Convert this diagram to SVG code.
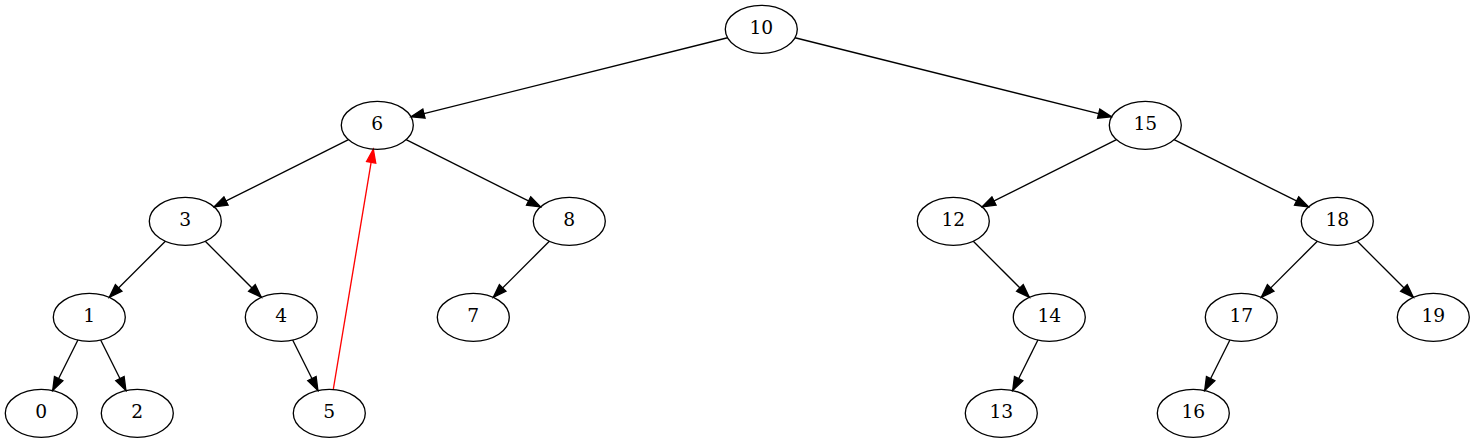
<svg xmlns="http://www.w3.org/2000/svg" width="1475" height="443" viewBox="0 0 1475 443">
<style>
.node ellipse{fill:none;stroke:#000;stroke-width:1.33}
.node text{font-family:"DejaVu Serif","Liberation Serif",serif;font-size:18.67px;text-anchor:middle;fill:#000}
.edge{stroke:#000;stroke-width:1.33;fill:none;marker-end:url(#ah)}
.red{stroke:#f00;marker-end:url(#ahr)}
</style>
<defs>
<marker id="ah" markerUnits="userSpaceOnUse" markerWidth="16" markerHeight="12" viewBox="-1 -6 16 12" refX="13.33" refY="0" orient="auto">
<path d="M0,-4.67 L13.33,0 L0,4.67 z" fill="#000" stroke="#000" stroke-width="1.33"/>
</marker>
<marker id="ahr" markerUnits="userSpaceOnUse" markerWidth="16" markerHeight="12" viewBox="-1 -6 16 12" refX="13.33" refY="0" orient="auto">
<path d="M0,-4.67 L13.33,0 L0,4.67 z" fill="#f00" stroke="#f00" stroke-width="1.33"/>
</marker>
</defs>
<rect width="1475" height="443" fill="#fff"/>
<g id="edges">
<line class="edge" x1="727.59" y1="37.73" x2="411.01" y2="116.87"/>
<line class="edge" x1="795.01" y1="37.73" x2="1111.59" y2="116.87"/>
<line class="edge" x1="348.5" y1="139.7" x2="214.1" y2="206.9"/>
<line class="edge" x1="406.1" y1="139.7" x2="540.5" y2="206.9"/>
<line class="edge" x1="1116.5" y1="139.7" x2="982.1" y2="206.9"/>
<line class="edge" x1="1174.1" y1="139.7" x2="1308.5" y2="206.9"/>
<line class="edge" x1="165.33" y1="241.27" x2="109.27" y2="297.33"/>
<line class="edge" x1="205.27" y1="241.27" x2="261.33" y2="297.33"/>
<line class="edge" x1="549.33" y1="241.27" x2="493.27" y2="297.33"/>
<line class="edge" x1="973.27" y1="241.27" x2="1029.33" y2="297.33"/>
<line class="edge" x1="1317.33" y1="241.27" x2="1261.27" y2="297.33"/>
<line class="edge" x1="1357.27" y1="241.27" x2="1413.33" y2="297.33"/>
<line class="edge" x1="77.91" y1="340.07" x2="52.69" y2="390.53"/>
<line class="edge" x1="100.69" y1="340.07" x2="125.91" y2="390.53"/>
<line class="edge" x1="292.69" y1="340.07" x2="317.91" y2="390.53"/>
<line class="edge" x1="1037.91" y1="340.07" x2="1012.69" y2="390.53"/>
<line class="edge" x1="1229.91" y1="340.07" x2="1204.69" y2="390.53"/>
<line class="edge red" x1="333.27" y1="389.45" x2="373.33" y2="149.15"/>
</g>
<g id="n10" class="node"><ellipse cx="761.3" cy="29.3" rx="36" ry="24"/><text x="761.3" y="34.3">10</text></g>
<g id="n6" class="node"><ellipse cx="377.3" cy="125.3" rx="36" ry="24"/><text x="377.3" y="130.3">6</text></g>
<g id="n15" class="node"><ellipse cx="1145.3" cy="125.3" rx="36" ry="24"/><text x="1145.3" y="130.3">15</text></g>
<g id="n3" class="node"><ellipse cx="185.3" cy="221.3" rx="36" ry="24"/><text x="185.3" y="226.3">3</text></g>
<g id="n8" class="node"><ellipse cx="569.3" cy="221.3" rx="36" ry="24"/><text x="569.3" y="226.3">8</text></g>
<g id="n12" class="node"><ellipse cx="953.3" cy="221.3" rx="36" ry="24"/><text x="953.3" y="226.3">12</text></g>
<g id="n18" class="node"><ellipse cx="1337.3" cy="221.3" rx="36" ry="24"/><text x="1337.3" y="226.3">18</text></g>
<g id="n1" class="node"><ellipse cx="89.3" cy="317.3" rx="36" ry="24"/><text x="89.3" y="322.3">1</text></g>
<g id="n4" class="node"><ellipse cx="281.3" cy="317.3" rx="36" ry="24"/><text x="281.3" y="322.3">4</text></g>
<g id="n7" class="node"><ellipse cx="473.3" cy="317.3" rx="36" ry="24"/><text x="473.3" y="322.3">7</text></g>
<g id="n14" class="node"><ellipse cx="1049.3" cy="317.3" rx="36" ry="24"/><text x="1049.3" y="322.3">14</text></g>
<g id="n17" class="node"><ellipse cx="1241.3" cy="317.3" rx="36" ry="24"/><text x="1241.3" y="322.3">17</text></g>
<g id="n19" class="node"><ellipse cx="1433.3" cy="317.3" rx="36" ry="24"/><text x="1433.3" y="322.3">19</text></g>
<g id="n0" class="node"><ellipse cx="41.3" cy="413.3" rx="36" ry="24"/><text x="41.3" y="418.3">0</text></g>
<g id="n2" class="node"><ellipse cx="137.3" cy="413.3" rx="36" ry="24"/><text x="137.3" y="418.3">2</text></g>
<g id="n5" class="node"><ellipse cx="329.3" cy="413.3" rx="36" ry="24"/><text x="329.3" y="418.3">5</text></g>
<g id="n13" class="node"><ellipse cx="1001.3" cy="413.3" rx="36" ry="24"/><text x="1001.3" y="418.3">13</text></g>
<g id="n16" class="node"><ellipse cx="1193.3" cy="413.3" rx="36" ry="24"/><text x="1193.3" y="418.3">16</text></g>
</svg>
